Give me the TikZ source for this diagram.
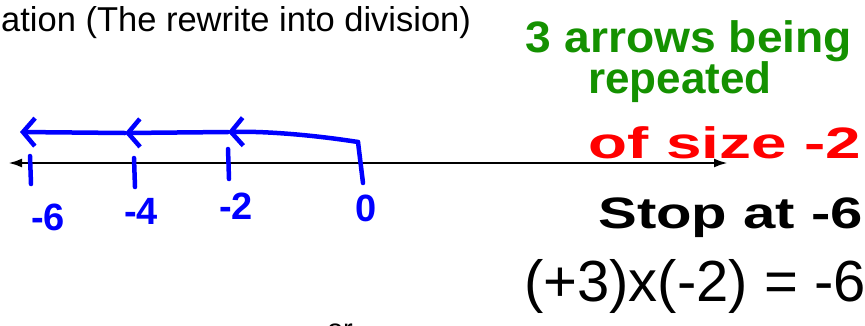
\documentclass[tikz,border=0pt]{standalone}
\usepackage{fontspec}
\setmainfont{Liberation Sans}
\usetikzlibrary{arrows.meta,positioning}
\definecolor{NlBlue}{RGB}{0,0,255}
\definecolor{NlGreen}{RGB}{20,145,0}
\definecolor{NlRed}{RGB}{255,0,0}
\tikzset{
  nl/axis/.style={{Latex[length=14pt,width=9pt]}-{Latex[length=14pt,width=9pt]}, line width=2.6pt, draw=black},
  nl/tick/.style={line width=4.5pt, draw=NlBlue, line cap=round},
  nl/hop/.style={-{Straight Barb[length=12pt,width=28pt]}, line width=4.5pt, draw=NlBlue, line cap=round, line join=round},
  nl/num/.style={font=\fontsize{38}{40}\selectfont\bfseries, text=NlBlue, inner sep=0pt},
  nl/note/.style={font=\fontsize{44}{40}\selectfont\bfseries, align=center, inner sep=0pt},
  nl/typed/.style={font=\fontsize{34.5}{36}\selectfont, text=black, inner sep=0pt}
}
\begin{document}
\begin{tikzpicture}[x=1pt,y=-1pt]
  \useasboundingbox (0,0) rectangle (865,325);
  % heading and the line
  \node[nl/typed,anchor=west] (head) at (1,23) {ation (The rewrite into division)};
  \coordinate (left) at (8,163);
  \coordinate (right) at (728,163);
  \draw[nl/axis] (left) -- (right);
  % ticks
  \coordinate (t6) at (30,156);  \coordinate (b6) at (31,184);
  \coordinate (t4) at (134,158); \coordinate (b4) at (135,187);
  \coordinate (t2) at (228,149); \coordinate (b2) at (229,179);
  \coordinate (t0) at (358,142); \coordinate (b0) at (363,183);
  \draw[nl/tick] (t6) -- (b6);
  \draw[nl/tick] (t4) -- (b4);
  \draw[nl/tick] (t2) -- (b2);
  \draw[nl/tick] (t0) -- (b0);
  \node[nl/num] (n6) at (48,217) {-6};
  \node[nl/num] (n4) at (141,211) {-4};
  \node[nl/num] (n2) at (236,206) {-2};
  \node[nl/num] (n0) at (366,208) {0};
  % hops of -2
  \coordinate (h2) at (228,132);
  \coordinate (h4) at (125,133);
  \coordinate (h6) at (20,132);
  \draw[nl/hop] (t0) .. controls (320,136) and (270,131) .. (h2);
  \draw[nl/hop] (h2) -- (h4);
  \draw[nl/hop] (h4) -- (h6);
  % notes on the right
  \node[nl/note,text=NlGreen,xscale=1.05] (repeat) at (689,41) {3 arrows being};
  \node[nl/note,text=NlGreen] (again) at (680,82) {repeated};
  \node[nl/note,text=NlRed,anchor=west,xscale=1.45] (size) at (588,143) {of size -2};
  \node[nl/note,text=black,anchor=west,xscale=1.32] (stop) at (598,218) {Stop at -6};
  \node[nl/note,text=black,anchor=west,font=\fontsize{58}{58}\selectfont] (prod) at (524,286) {(+3)x(-2) = -6};
  \node[nl/typed,font=\fontsize{29}{32}\selectfont] (or) at (340,332) {or};
\end{tikzpicture}
\end{document}
